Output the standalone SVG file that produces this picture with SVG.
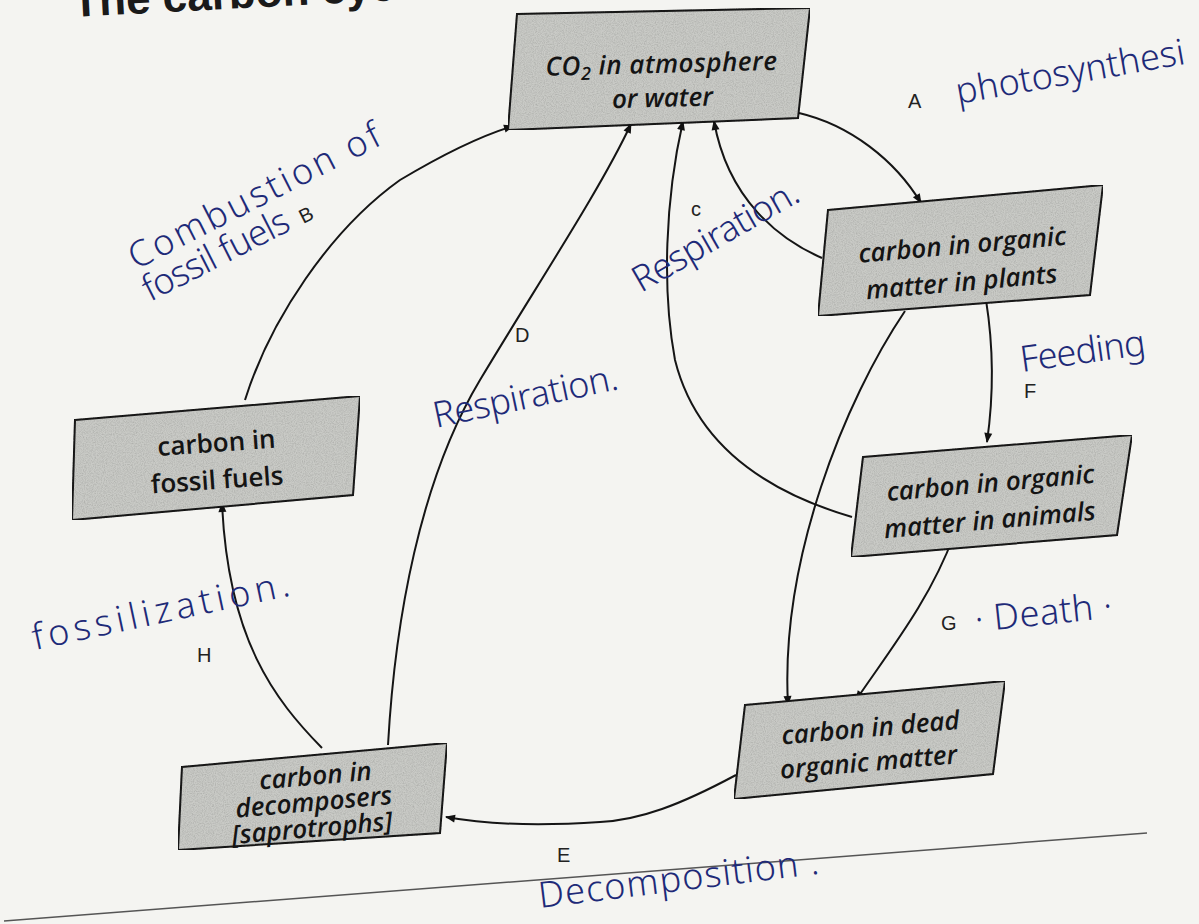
<svg xmlns="http://www.w3.org/2000/svg" width="1199" height="924" viewBox="0 0 1199 924">
<defs>
<marker id="ah" viewBox="0 0 10 10" refX="9" refY="5" markerWidth="11" markerHeight="10" markerUnits="userSpaceOnUse" orient="auto"><path d="M0,1 L10,5 L0,9 z" fill="#111"/></marker>
<filter id="grain" x="0" y="0" width="100%" height="100%">
<feTurbulence type="fractalNoise" baseFrequency="0.9" numOctaves="2" seed="4" result="n"/>
<feColorMatrix in="n" type="matrix" values="0 0 0 0 0  0 0 0 0 0  0 0 0 0 0  0.5 0 0 0 -0.18" result="g"/>
<feComposite in="g" in2="SourceGraphic" operator="in" result="gi"/>
<feMerge><feMergeNode in="SourceGraphic"/><feMergeNode in="gi"/></feMerge>
</filter>
</defs>
<style>
.box{fill:#c9cac6;stroke:#1a1a1a;stroke-width:2}
.bt{font-family:"Open Sans","Liberation Sans",sans-serif;font-size:26px;font-weight:600;fill:#141414;text-anchor:middle}
.it{font-style:italic}
.lbl{font-family:"Liberation Sans",sans-serif;font-size:20px;fill:#222}
.hw{font-family:"Noto Sans","DejaVu Sans",sans-serif;fill:#1e2a78;font-size:36px;font-weight:300}
.con{fill:none;stroke:#151515;stroke-width:2;marker-end:url(#ah)}
</style>
<rect width="1199" height="924" fill="#f4f4f1"/>
<text x="73" y="17" transform="rotate(-3 73 17)" font-family="Liberation Sans,sans-serif" font-weight="bold" font-size="44" fill="#1a1a1a">The carbon cycle</text>
<line x1="4" y1="921" x2="1147" y2="833" stroke="#555" stroke-width="1.5"/>

<g id="connectors">
<path id="cA" class="con" d="M799,113 C850,125 895,160 921,203"/>
<path id="cC1" class="con" d="M822,258 C780,240 728,200 714,121"/>
<path id="cC2" class="con" d="M852,517 C760,490 695,440 675,360 C662,290 665,200 683,121"/>
<path id="cD" class="con" d="M388,745 C395,620 420,480 480,380 C540,280 600,190 631,124"/>
<path id="cB" class="con" d="M245,400 C270,320 330,230 400,180 C450,150 490,133 513,126"/>
<path id="cPD" class="con" d="M905,311 C845,400 780,560 788,705"/>
<path id="cF" class="con" d="M986,300 C994,350 993,400 987,442"/>
<path id="cG" class="con" d="M954,535 C930,600 890,650 856,700"/>
<path id="cE" class="con" d="M736,775 C680,805 640,820 600,822 C540,826 490,825 446,817"/>
<path id="cH" class="con" d="M322,748 C275,700 228,640 222,503"/>
</g>

<g id="n-co2">
<polygon class="box" filter="url(#grain)" points="517,14 810,8 798,118 508,130"/>
<g transform="rotate(-1.5 655 85)">
<text class="bt it" x="662" y="73" letter-spacing="0.5">CO<tspan font-size="18" dy="5">2</tspan><tspan dy="-5"> in atmosphere</tspan></text>
<text class="bt it" x="662" y="107">or water</text>
</g>
</g>
<g id="n-plants">
<polygon class="box" filter="url(#grain)" points="828,210 1103,185 1090,295 818,316"/>
<g transform="rotate(-5 960 265)">
<text class="bt it" x="964" y="254">carbon in organic</text>
<text class="bt it" x="960" y="291">matter in plants</text>
</g>
</g>
<g id="n-animals">
<polygon class="box" filter="url(#grain)" points="863,457 1132,435 1117,535 851,557"/>
<g transform="rotate(-5 990 500)">
<text class="bt it" x="992" y="492">carbon in organic</text>
<text class="bt it" x="988" y="529">matter in animals</text>
</g>
</g>
<g id="n-dead">
<polygon class="box" filter="url(#grain)" points="745,705 1005,681 993,774 734,799"/>
<g transform="rotate(-5 868 745)">
<text class="bt it" x="872" y="737">carbon in dead</text>
<text class="bt it" x="867" y="771">organic matter</text>
</g>
</g>
<g id="n-decomp">
<polygon class="box" filter="url(#grain)" points="182,767 447,743 440,833 178,850"/>
<g transform="rotate(-5 312 805)">
<text class="bt it" x="318" y="785" font-size="24">carbon in</text>
<text class="bt it" x="314" y="811" font-size="24">decomposers</text>
<text class="bt it" x="310" y="837" font-size="24">[saprotrophs]</text>
</g>
</g>
<g id="n-fossil">
<polygon class="box" filter="url(#grain)" points="75,420 360,396 353,495 72,520"/>
<g transform="rotate(-4 215 465)">
<text class="bt" x="218" y="452">carbon in</text>
<text class="bt" x="216" y="489">fossil fuels</text>
</g>
</g>

<g id="labels">
<text class="lbl" x="908" y="108">A</text>
<text class="lbl" x="515" y="342">D</text>
<text class="lbl" x="1024" y="398">F</text>
<text class="lbl" x="941" y="630">G</text>
<text class="lbl" x="557" y="862">E</text>
<text class="lbl" x="197" y="662">H</text>
<text class="lbl" x="691" y="216" font-size="22">c</text>
</g>

<g id="handwriting">
<text class="hw" x="958" y="104" transform="rotate(-10 958 104)" textLength="232" lengthAdjust="spacing">photosynthesi</text>
<text class="hw" x="136" y="270" transform="rotate(-27 136 270)" textLength="278" lengthAdjust="spacing">Combustion of</text>
<text class="hw" x="150" y="302" transform="rotate(-27 150 302)" textLength="160" lengthAdjust="spacing">fossil fuels</text>
<text class="lbl" x="322" y="302" transform="rotate(-27 150 302)" font-size="22">B</text>
<text class="hw" x="641" y="293" transform="rotate(-30 641 293)" textLength="186" lengthAdjust="spacing">Respiration.</text>
<text class="hw" x="436" y="428" transform="rotate(-12 436 428)" textLength="188" lengthAdjust="spacing">Respiration.</text>
<text class="hw" x="1022" y="372" transform="rotate(-8 1022 372)" textLength="126" lengthAdjust="spacing">Feeding</text>
<text class="hw" x="976" y="632" transform="rotate(-6 976 632)" textLength="138" lengthAdjust="spacing">· Death ·</text>
<text class="hw" x="35" y="650" transform="rotate(-12 35 650)" textLength="262" lengthAdjust="spacing">fossilization.</text>
<text class="hw" x="540" y="908" transform="rotate(-7 540 908)" textLength="282" lengthAdjust="spacing">Decomposition .</text>
</g>
</svg>
